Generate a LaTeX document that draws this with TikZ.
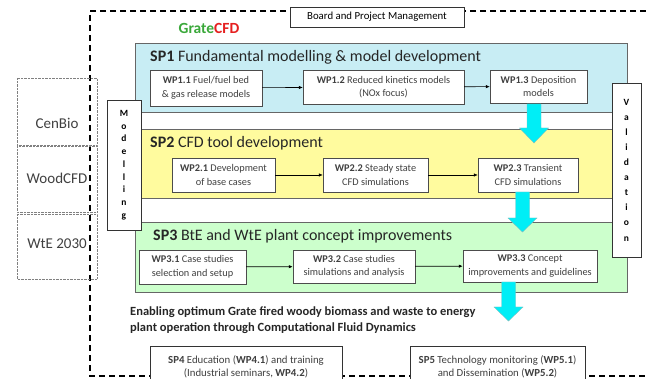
\documentclass[tikz,border=0pt]{standalone}
\usepackage{fontspec}
\setmainfont{Carlito}
\usepackage{xcolor}
\usetikzlibrary{arrows.meta}
\definecolor{spone}{HTML}{C8EDF4}
\definecolor{sptwo}{HTML}{FFFB9E}
\definecolor{spthree}{HTML}{CCFFCC}
\definecolor{bigcyan}{HTML}{00EEF6}
\definecolor{grategreen}{HTML}{3AA83A}
\definecolor{cfdred}{HTML}{E52020}

\begin{document}
\begin{tikzpicture}[x=1pt,y=-1pt,
    spbox/.style={draw=gray!80!black},
    sptitle/.style={anchor=west,inner sep=0pt,font=\fontsize{16}{19}\selectfont,text=black!85},
    wp/.style={draw=black!70,fill=white,align=center,inner sep=1pt,text=black!75,font=\fontsize{10.3}{13.5}\selectfont},
    side/.style={draw=black!80,fill=white,align=center,inner sep=0pt,font=\bfseries\fontsize{9.5}{12.75}\selectfont},
    partner/.style={draw=gray,densely dotted},
    frame/.style={line width=1.3pt,dash pattern=on 6pt off 4pt},
    link/.style={semithick,-{Latex[length=4pt,width=3.5pt]}},
    fatarrow/.style={fill=bigcyan,draw=teal!50,line join=miter}]
  \useasboundingbox (0,0) rectangle (646,379);
  \draw[frame] (646,11) -- (90,11) -- (90,376) -- (646,376);
  \draw[partner] (17,78) rectangle (97,145);
  \draw[partner] (17,146) rectangle (97,212);
  \draw[partner] (17,214) rectangle (97,279);
  \node[font=\fontsize{15}{17}\selectfont,text=black!75] (cenbio) at (57,123) {CenBio};
  \node[font=\fontsize{15}{17}\selectfont,text=black!75] (woodcfd) at (57,178) {WoodCFD};
  \node[font=\fontsize{15}{17}\selectfont,text=black!75] (wte) at (57,244) {WtE 2030};
  \node[draw=black!80,fill=white,minimum width=174,minimum height=20,inner sep=1pt,font=\fontsize{10.8}{12}\selectfont] (board) at (377,17) {Board and Project Management};
  \node[font=\bfseries\fontsize{15.5}{17}\selectfont] (grate) at (209,28) {\textcolor{grategreen}{Grate}\textcolor{cfdred}{CFD}};
  \draw[spbox,fill=spone] (135,43) rectangle (627,112);
  \draw[spbox,fill=sptwo] (135,129) rectangle (627,198);
  \draw[spbox,fill=spthree] (135,222) rectangle (627,292);
  \node[sptitle] (sp1) at (150,57) {\textbf{SP1} Fundamental modelling \& model development};
  \node[sptitle] (sp2) at (150,143) {\textbf{SP2} CFD tool development};
  \node[sptitle] (sp3) at (153,236) {\textbf{SP3} BtE and WtE plant concept improvements};
  \node[wp,minimum width=112,minimum height=36] (wp11) at (206,88) {\textbf{WP1.1} Fuel/fuel bed\\\& gas release models};
  \node[wp,minimum width=161,minimum height=34] (wp12) at (383.5,87) {\textbf{WP1.2} Reduced kinetics models\\(NOx focus)};
  \node[wp,minimum width=97,minimum height=33] (wp13) at (538.5,86.5) {\textbf{WP1.3} Deposition\\models};
  \node[wp,minimum width=103,minimum height=34] (wp21) at (223.5,175) {\textbf{WP2.1} Development\\of base cases};
  \node[wp,minimum width=105,minimum height=34] (wp22) at (375.5,175) {\textbf{WP2.2} Steady state\\CFD simulations};
  \node[wp,minimum width=100,minimum height=34] (wp23) at (528,175) {\textbf{WP2.3} Transient\\CFD simulations};
  \node[wp,minimum width=107,minimum height=34] (wp31) at (192.5,267) {\textbf{WP3.1} Case studies\\selection and setup};
  \node[wp,minimum width=122,minimum height=33] (wp32) at (354,266.5) {\textbf{WP3.2} Case studies\\simulations and analysis};
  \node[wp,minimum width=134,minimum height=32] (wp33) at (530,266) {\textbf{WP3.3} Concept\\improvements and guidelines};
  \draw[link] (wp11) -- (wp12);
  \draw[link] (wp12) -- (wp13);
  \draw[link] (wp21) -- (wp22);
  \draw[link] (wp22) -- (wp23);
  \draw[link,thick] (wp31) -- (wp32);
  \draw[link,thick] (wp32) -- (wp33);
  \coordinate (a1) at (534,104);
  \coordinate (a2) at (522.5,192);
  \coordinate (a3) at (508.5,282);
  \foreach \a/\l/\h in {a1/24/15, a2/26/14, a3/25/14}
    \draw[fatarrow] (\a) -- ++(7,0) -- ++(0,\l) -- ++(7.5,0) -- ++(-14.5,\h) -- ++(-14.5,-\h) -- ++(7.5,0) -- ++(0,-\l) -- cycle;
  \node[side,minimum width=34,minimum height=130] (model) at (124,165) {M\\o\\d\\e\\l\\l\\i\\n\\g};
  \node[side,minimum width=29,minimum height=174,font=\bfseries\fontsize{9.5}{15.1}\selectfont] (valid) at (626.5,170) {V\\a\\l\\i\\d\\a\\t\\i\\o\\n};
  \node[anchor=north west,align=left,inner sep=0pt,font=\bfseries\fontsize{12.5}{16}\selectfont,text=black!85] (aim) at (130,307) {Enabling optimum Grate fired woody biomass and waste to energy\\plant operation through Computational Fluid Dynamics};
  \node[draw=black!80,fill=white,anchor=north,minimum width=192,minimum height=46,align=center,text=black!75,font=\fontsize{10.8}{13.5}\selectfont,text height=17pt] (sp4) at (246,346) {\textbf{SP4} Education (\textbf{WP4.1}) and training\\(Industrial seminars, \textbf{WP4.2})};
  \node[draw=black!80,fill=white,anchor=north,minimum width=175,minimum height=46,align=center,text=black!75,font=\fontsize{10.8}{13.5}\selectfont,text height=17pt] (sp5) at (497.5,346) {\textbf{SP5} Technology monitoring (\textbf{WP5.1})\\and Dissemination (\textbf{WP5.2})};
\end{tikzpicture}
\end{document}
